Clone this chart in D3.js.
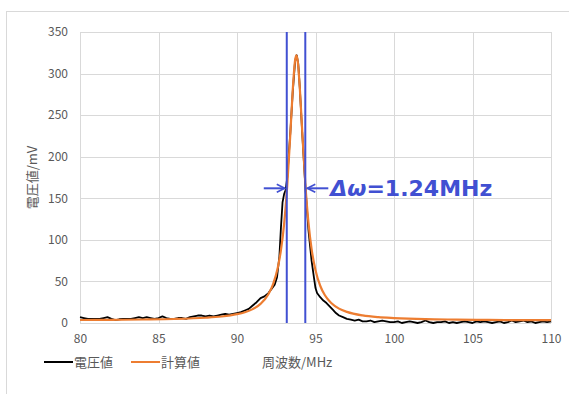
<!DOCTYPE html>
<html>
<head>
<meta charset="utf-8">
<script src="https://cdn.jsdelivr.net/npm/d3@7"></script>
<style>
  body { margin: 0; background: #fff; }
  svg { display: block; font-family: "Noto Sans CJK JP", "Noto Sans", sans-serif; }
</style>
</head>
<body>
<div id="chart"></div>
<script>
// measured voltage (black)
const measFreq = [80, 80.25, 80.5, 80.75, 81, 81.25, 81.5, 81.75, 82, 82.25, 82.5, 82.75, 83, 83.25, 83.5, 83.75,
  84, 84.25, 84.5, 84.75, 85, 85.25, 85.5, 85.75, 86, 86.25, 86.5, 86.75, 87, 87.25, 87.5, 87.75,
  88, 88.25, 88.5, 88.75, 89, 89.25, 89.5, 89.75, 90, 90.25, 90.5, 90.75, 91, 91.25, 91.5, 91.75,
  92, 92.2, 92.4, 92.55, 92.7, 92.8, 92.9, 93.0, 93.1, 93.2, 93.4, 93.55, 93.7, 93.8, 93.9, 94.0,
  94.15, 94.35, 94.55, 94.75, 94.9, 95.0, 95.1, 95.3, 95.5, 95.7, 95.9, 96.1, 96.3, 96.5, 96.75,
  97, 97.25, 97.5, 97.75, 98, 98.25, 98.5, 98.75, 99, 99.25, 99.5, 99.75, 100, 100.25, 100.5, 100.75,
  101, 101.25, 101.5, 101.75, 102, 102.25, 102.5, 102.75, 103, 103.25, 103.5, 103.75, 104, 104.25,
  104.5, 104.75, 105, 105.25, 105.5, 105.75, 106, 106.25, 106.5, 106.75, 107, 107.25, 107.5, 107.75,
  108, 108.25, 108.5, 108.75, 109, 109.25, 109.5, 109.75, 110];
const measVolt = [7, 6, 5, 5, 5, 5, 6, 7, 5, 3.5, 4.5, 5, 5, 5, 6, 7,
  6, 7, 6, 5, 6, 8, 6, 5, 5, 6, 6, 5, 7, 8, 9, 9,
  8, 9, 8, 9, 10, 11, 10, 11, 12, 13, 15, 17, 21, 25, 30, 32,
  36, 41, 46, 55, 80, 115, 145, 155, 160, 175, 230, 278, 315, 322, 312, 283,
  230, 165, 112, 75, 55, 42, 36, 31, 27, 24, 20, 16, 12, 9, 7,
  5, 4, 3, 4, 2, 2, 3, 1, 2, 3, 2, 1, 1, 2, 0, 1,
  2, 1, 0, 1, 3, 1, 0, 1, 1, 2, 0, 1, 0, 1,
  2, 1, 0, 2, 1, 2, 1, 0, 1, 2, 0, 1, 3, 1,
  2, 3, 1, 2, 0, 1, 2, 1, 2];

// fitted curve (orange)
const calcFreq = [80, 82, 84, 86, 88, 89, 90, 90.5, 91, 91.5, 92, 92.3, 92.6, 92.8, 93.0, 93.2, 93.4, 93.55,
  93.7, 93.78, 93.86, 94.0, 94.15, 94.35, 94.55, 94.75, 95.0, 95.3, 95.6, 96, 96.5, 97, 98, 99, 100,
  102, 104, 106, 108, 110];
const calcVolt = [3.6, 3.8, 4.2, 4.8, 6.3, 7.8, 10.6, 13, 16.7, 23, 34.6, 46.8, 66.8, 87.8, 119, 165.3, 228.4, 280,
  316, 322, 316, 283, 232, 168, 121, 89, 63.5, 44.8, 33.3, 24, 17.3, 13.4, 9.1, 7.0, 5.9,
  4.6, 4.1, 3.7, 3.5, 3.4];

const halfWidthLines = [93.17, 94.35];
const halfHeight = 162;
const xTicks = [80, 85, 90, 95, 100, 105, 110];
const yTicks = [0, 50, 100, 150, 200, 250, 300, 350];
const seriesNames = ["電圧値", "計算値"];
const xTitle = "周波数/MHz";
const yTitle = "電圧値/mV";
const noteSym = "Δω";
const noteVal = "=1.24MHz";

const W = 569, H = 394;
const m = {left: 80, right: 18, top: 32, bottom: 71};
const BLUE = "#4150d2", ORANGE = "#ed7d31", GRID = "#d9d9d9", TXT = "#595959";

const svg = d3.select("#chart").append("svg")
  .attr("width", W).attr("height", H);

svg.append("rect")
  .attr("x", 6.5).attr("y", 11.5)
  .attr("width", W).attr("height", H)
  .attr("fill", "none").attr("stroke", GRID);

const x = d3.scaleLinear().domain([80, 110]).range([m.left, W - m.right]);
const y = d3.scaleLinear().domain([0, 350]).range([H - m.bottom, m.top]);

// grid
const grid = svg.append("g");
grid.selectAll(".gy").data(yTicks).join("line")
  .attr("x1", x(80)).attr("x2", x(110))
  .attr("y1", d => Math.round(y(d)) + 0.5).attr("y2", d => Math.round(y(d)) + 0.5)
  .attr("stroke", GRID);
grid.selectAll(".gx").data(xTicks).join("line")
  .attr("y1", y(0)).attr("y2", y(350))
  .attr("x1", d => Math.round(x(d)) + 0.5).attr("x2", d => Math.round(x(d)) + 0.5)
  .attr("stroke", GRID);

// axes
const xAxis = svg.append("g")
  .attr("transform", `translate(0,${y(0)})`)
  .call(d3.axisBottom(x).tickValues(xTicks).tickSize(0).tickPadding(11));
const yAxis = svg.append("g")
  .attr("transform", `translate(${m.left},0)`)
  .call(d3.axisLeft(y).tickValues(yTicks).tickSize(0).tickPadding(12));
[xAxis, yAxis].forEach(a => {
  a.select(".domain").remove();
  a.selectAll("text").attr("fill", TXT).attr("font-size", 12)
    .attr("font-family", "'Noto Sans CJK JP', sans-serif");
});

// curves
const line = d3.line().x(d => x(d[0])).y(d => y(d[1]));
svg.append("path")
  .datum(measFreq.map((f, i) => [f, measVolt[i]]))
  .attr("d", line)
  .attr("fill", "none").attr("stroke", "#000").attr("stroke-width", 1.8)
  .attr("stroke-linejoin", "round");
svg.append("path")
  .datum(calcFreq.map((f, i) => [f, calcVolt[i]]))
  .attr("d", line.curve(d3.curveMonotoneX))
  .attr("fill", "none").attr("stroke", ORANGE).attr("stroke-width", 2.2);

// half width markers
svg.selectAll(".hw").data(halfWidthLines).join("line")
  .attr("x1", d => x(d)).attr("x2", d => x(d))
  .attr("y1", y(350)).attr("y2", y(0))
  .attr("stroke", BLUE).attr("stroke-width", 2);

const defs = svg.append("defs");
defs.append("marker").attr("id", "ah")
  .attr("viewBox", "0 0 10 10").attr("refX", 9).attr("refY", 5)
  .attr("markerWidth", 5).attr("markerHeight", 5).attr("orient", "auto")
  .append("path").attr("d", "M1,1 L9,5 L1,9")
  .attr("fill", "none").attr("stroke", BLUE).attr("stroke-width", 1.6);

const ay = y(halfHeight);
svg.append("line")
  .attr("x1", x(halfWidthLines[0]) - 23).attr("x2", x(halfWidthLines[0]) - 2)
  .attr("y1", ay).attr("y2", ay)
  .attr("stroke", BLUE).attr("stroke-width", 2).attr("marker-end", "url(#ah)");
svg.append("line")
  .attr("x1", x(halfWidthLines[1]) + 23).attr("x2", x(halfWidthLines[1]) + 2)
  .attr("y1", ay).attr("y2", ay)
  .attr("stroke", BLUE).attr("stroke-width", 2).attr("marker-end", "url(#ah)");

const note = svg.append("text")
  .attr("x", x(halfWidthLines[1]) + 25).attr("y", ay + 8)
  .attr("fill", BLUE).attr("font-size", 22).attr("font-weight", "bold")
  .attr("font-family", "'DejaVu Sans', sans-serif");
note.append("tspan").attr("font-style", "italic").text(noteSym);
note.append("tspan").text(noteVal);

// axis titles
svg.append("text")
  .attr("transform", `translate(37,${(y(0) + y(350)) / 2}) rotate(-90)`)
  .attr("text-anchor", "middle")
  .attr("fill", TXT).attr("font-size", 13)
  .text(yTitle);

const ly = 367;
svg.append("text")
  .attr("x", 262).attr("y", ly)
  .attr("fill", TXT).attr("font-size", 13)
  .text(xTitle);

// legend
const legend = svg.append("g");
const lx = [44, 131];
const lcol = ["#000", ORANGE];
seriesNames.forEach((name, i) => {
  legend.append("line")
    .attr("x1", lx[i]).attr("x2", lx[i] + 29)
    .attr("y1", ly - 5).attr("y2", ly - 5)
    .attr("stroke", lcol[i]).attr("stroke-width", 2);
  legend.append("text")
    .attr("x", lx[i] + 30).attr("y", ly)
    .attr("fill", TXT).attr("font-size", 13)
    .text(name);
});
</script>
</body>
</html>
